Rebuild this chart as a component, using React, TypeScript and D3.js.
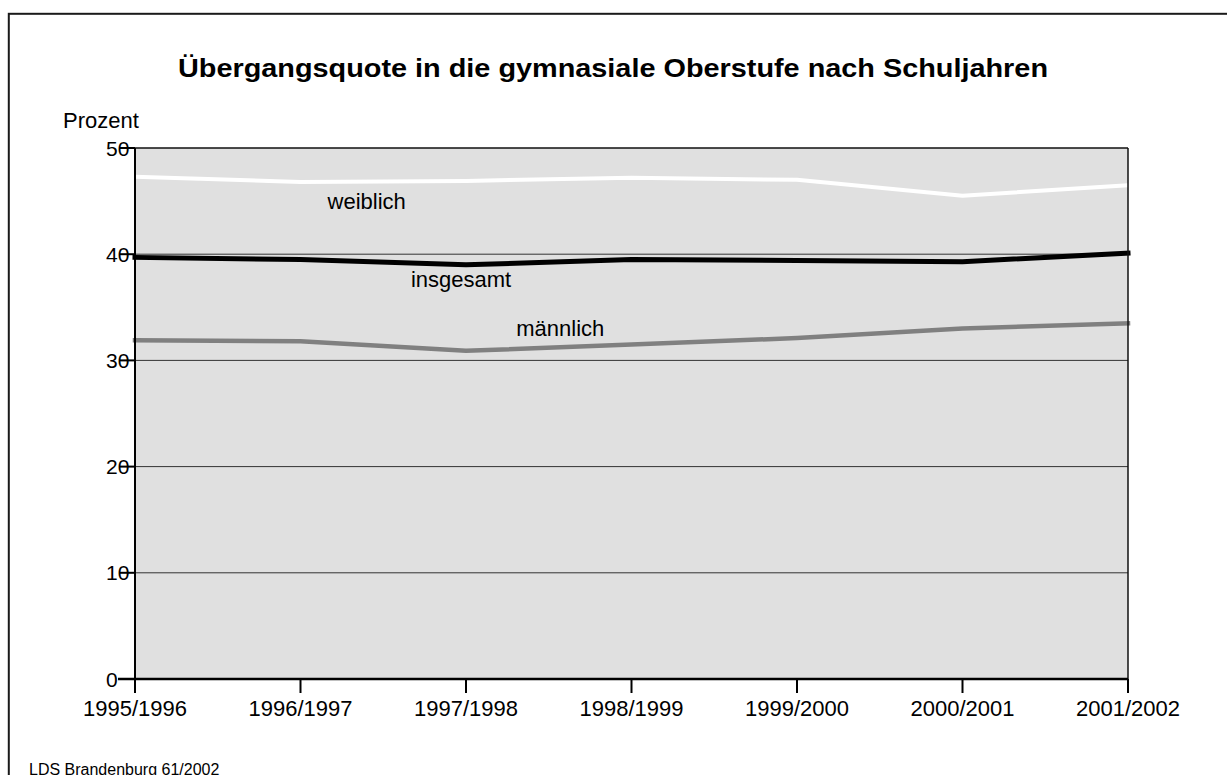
import * as d3 from 'd3'

const years = ['1995/1996', '1996/1997', '1997/1998', '1998/1999', '1999/2000', '2000/2001', '2001/2002']
const weiblich = [47.3, 46.8, 46.9, 47.2, 47.0, 45.5, 46.5]
const insgesamt = [39.7, 39.5, 39.0, 39.5, 39.4, 39.3, 40.1]
const maennlich = [31.9, 31.8, 30.9, 31.5, 32.1, 33.0, 33.5]
const yTicks = [0, 10, 20, 30, 40, 50]

const title = 'Übergangsquote in die gymnasiale Oberstufe nach Schuljahren'
const yLabel = 'Prozent'
const source = 'LDS Brandenburg 61/2002'

const W = 1227
const H = 775
const plot = { left: 135, right: 1128, top: 148, bottom: 679 }
const font = 'Liberation Sans, Arial, Helvetica, sans-serif'

export default function App() {
  const x = d3.scaleLinear().domain([0, years.length - 1]).range([plot.left, plot.right])
  const y = d3.scaleLinear().domain([0, 50]).range([plot.bottom, plot.top])

  const line = d3.line<number>()
    .x((_, i) => x(i))
    .y(d => y(d))

  // label spots given in data units (category index, percent)
  const series = [
    { name: 'weiblich', values: weiblich, color: '#ffffff', width: 4, cap: 'butt', lx: 1.4, ly: 44.3 },
    { name: 'männlich', values: maennlich, color: '#808080', width: 4.5, cap: 'square', lx: 2.57, ly: 32.3 },
    { name: 'insgesamt', values: insgesamt, color: '#000000', width: 5, cap: 'square', lx: 1.97, ly: 36.9 },
  ]

  return (
    <svg width={W} height={H} style={{ position: 'absolute', left: 0, top: 0, background: '#fff' }} fontFamily={font}>
      <rect x={8.8} y={13.8} width={1300} height={900} fill="none" stroke="#1a1a1a" strokeWidth={2} />

      <text x={613} y={77} textAnchor="middle" fontSize={26} fontWeight="bold" textLength={870} lengthAdjust="spacingAndGlyphs">
        {title}
      </text>
      <text x={63} y={128} fontSize={22}>{yLabel}</text>

      <rect x={plot.left} y={plot.top} width={plot.right - plot.left} height={plot.bottom - plot.top} fill="#e0e0e0" />

      {yTicks.filter(t => t > 0 && t < 50).map(t => (
        <line key={t} x1={plot.left} x2={plot.right} y1={y(t)} y2={y(t)} stroke="#333" strokeWidth={1} />
      ))}

      {series.map(s => (
        <path key={s.name} d={line(s.values) ?? ''} fill="none" stroke={s.color} strokeWidth={s.width}
          strokeLinecap={s.cap as any} strokeLinejoin="round" />
      ))}

      {series.map(s => (
        <text key={s.name} x={x(s.lx)} y={y(s.ly)} textAnchor="middle" fontSize={22}>{s.name}</text>
      ))}

      <line x1={plot.left} x2={plot.right} y1={plot.top} y2={plot.top} stroke="#111" strokeWidth={1.5} />
      <line x1={plot.right} x2={plot.right} y1={plot.top} y2={plot.bottom} stroke="#111" strokeWidth={1.5} />
      <line x1={plot.left} x2={plot.left} y1={plot.top} y2={plot.bottom + 14} stroke="#000" strokeWidth={2} />
      <line x1={plot.left - 17} x2={plot.right} y1={plot.bottom} y2={plot.bottom} stroke="#000" strokeWidth={2.5} />

      {yTicks.map(t => (
        <g key={t}>
          <text x={106} y={y(t) + 7.5} fontSize={21}>{t}</text>
          <line x1={plot.left - 15} x2={plot.left} y1={y(t)} y2={y(t)} stroke="#000" strokeWidth={2} />
        </g>
      ))}

      {years.map((yr, i) => (
        <g key={yr}>
          <line x1={x(i)} x2={x(i)} y1={plot.bottom} y2={plot.bottom + 14} stroke="#000" strokeWidth={2} />
          <text x={x(i)} y={716} textAnchor="middle" fontSize={22}>{yr}</text>
        </g>
      ))}

      <text x={29} y={775} fontSize={16}>{source}</text>
    </svg>
  )
}
